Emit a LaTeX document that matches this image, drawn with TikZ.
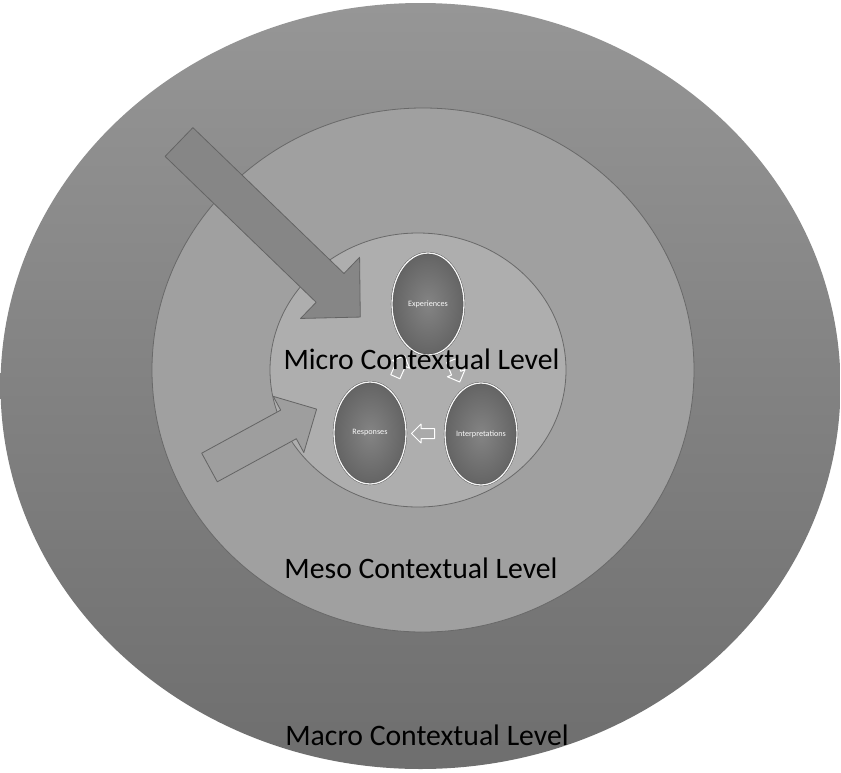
\documentclass[tikz,border=0pt]{standalone}
\usepackage{fontspec}
\setmainfont{Carlito}
\usetikzlibrary{shapes.geometric,shapes.arrows,calc}
\definecolor{macrotop}{RGB}{150,150,150}
\definecolor{macrobot}{RGB}{110,110,110}
\definecolor{mesofill}{RGB}{160,160,160}
\definecolor{microfill}{RGB}{174,174,174}
\definecolor{ringedge}{RGB}{105,105,105}
\definecolor{arrowdark}{RGB}{134,134,134}
\definecolor{arrowlight}{RGB}{158,158,158}
\definecolor{arrowedge}{RGB}{100,100,100}
\definecolor{cyclein}{RGB}{132,132,132}
\definecolor{cycleout}{RGB}{100,100,100}
\definecolor{cycleedge}{RGB}{78,78,78}
\definecolor{turnfill}{RGB}{170,170,170}
\begin{document}
\begin{tikzpicture}[x=1pt, y=-1pt, line join=round,
		level/.style={font=\fontsize{29.7}{32}\selectfont, anchor=base, inner sep=0pt},
		cycle/.style={ellipse, minimum width=72pt, minimum height=102pt, inner sep=0pt, shading=radial, inner color=cyclein, outer color=cycleout, draw=cycleedge, double=white!92!gray, double distance=1.3pt, text=white!95!gray, font=\fontsize{8.2}{9}\selectfont},
		turn/.style={single arrow, minimum height=23pt, inner xsep=0pt, inner ysep=4.5pt, single arrow head extend=4.5pt, fill=turnfill, draw=white, line width=1pt}]
	\useasboundingbox (0,0) rectangle (841,772);
	% the three levels
	\shade[top color=macrotop, bottom color=macrobot] (420.5,386) ellipse [x radius=420, y radius=383];
	\filldraw[fill=mesofill, draw=ringedge, line width=0.8pt] (423,370) ellipse [x radius=271, y radius=262];
	\filldraw[fill=microfill, draw=ringedge, line width=0.8pt] (418,370) ellipse [x radius=148, y radius=137];
	% big arrows
	\begin{scope}[shift={(179,142)}, rotate=-44]
		\filldraw[fill=arrowdark, draw=arrowedge, line width=0.8pt] (0,-20) -- (210,-20) -- (210,-42.5) -- (252,0) -- (210,42.5) -- (210,20) -- (0,20) -- cycle;
	\end{scope}
	\begin{scope}[shift={(209.5,467.5)}, rotate=28.6]
		\filldraw[fill=arrowlight, draw=arrowedge, line width=0.8pt] (0,-16.3) -- (90,-16.3) -- (90,-32) -- (122,0) -- (90,32) -- (90,16.3) -- (0,16.3) -- cycle;
	\end{scope}
	% cycle
	\node[cycle] (exp) at (428,304) {Experiences};
	\node[cycle] (int) at (481,434) {Interpretations};
	\node[cycle] (resp) at (370,433) {Responses};
	\node[turn, rotate=-68] (t1) at ($(exp)!.5!(int)$) {};
	\node[turn, rotate=180] (t2) at ($(int)!.5!(resp)$) {};
	\node[turn, rotate=66] (t3) at ($(resp)!.5!(exp)$) {};
	% labels
	\node[level] (micro) at (421.5,369) {Micro Contextual Level};
	\node[level] (meso) at (421,578) {Meso Contextual Level};
	\node[level] (macro) at (427,745) {Macro Contextual Level};
\end{tikzpicture}
\end{document}
